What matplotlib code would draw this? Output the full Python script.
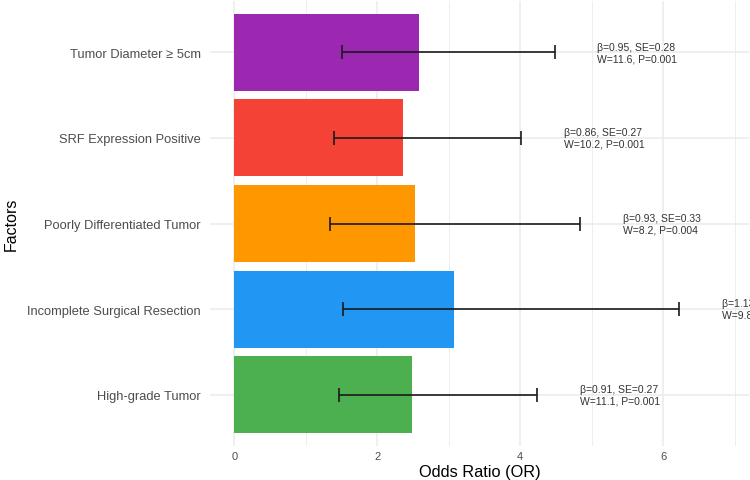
import matplotlib.pyplot as plt
import numpy as np

plt.rcParams['font.family'] = ['Liberation Sans', 'DejaVu Sans']

# data, bottom to top
factors = ['High-grade Tumor', 'Incomplete Surgical Resection', 'Poorly Differentiated Tumor',
           'SRF Expression Positive', 'Tumor Diameter \u2265 5cm']
odds = [2.48, 3.08, 2.53, 2.36, 2.59]
ci_low = [1.46, 1.52, 1.34, 1.39, 1.50]
ci_high = [4.23, 6.22, 4.84, 4.01, 4.48]
betas = ['0.91', '1.13', '0.93', '0.86', '0.95']
ses = ['0.27', '0.36', '0.33', '0.27', '0.28']
walds = ['11.1', '9.8', '8.2', '10.2', '11.6']
pvals = ['0.001', '0.002', '0.004', '0.001', '0.001']
colors = ['#4CAF50', '#2196F3', '#FF9800', '#F44336', '#9C27B0']

fig = plt.figure(figsize=(7.5, 4.81), dpi=100)
ax = fig.add_axes([0.28, 0.0707, 0.7187, 0.925])

y = np.arange(len(factors))
odds = np.array(odds)
lo = odds - np.array(ci_low)
hi = np.array(ci_high) - odds

ax.barh(y, odds, height=0.9, color=colors, zorder=2)
ax.errorbar(odds, y, xerr=[lo, hi], fmt='none', ecolor='#1a1a1a',
            elinewidth=1.2, capsize=4.7, capthick=1.2, zorder=3)

for i in range(len(factors)):
    txt = '\u03b2=' + betas[i] + ', SE=' + ses[i] + '\nW=' + walds[i] + ', P=' + pvals[i]
    ax.text(ci_high[i] + 0.6, y[i], txt, fontsize=7.5, color='#333333',
            ha='left', va='center', linespacing=1.15, zorder=4)

ax.set_xlim(-0.34, 7.2)
ax.set_ylim(-0.6, 4.6)
ax.set_yticks(y)
ax.set_yticklabels(factors)
ax.set_xticks([0, 2, 4, 6])
ax.set_xticks([1, 3, 5, 7], minor=True)

ax.grid(which='major', color='#EBEBEB', linewidth=1.1, zorder=0)
ax.grid(which='minor', axis='x', color='#EBEBEB', linewidth=0.6, zorder=0)
ax.set_axisbelow(True)
for s in ax.spines.values():
    s.set_visible(False)
ax.tick_params(axis='both', which='both', length=0)
ax.tick_params(axis='y', labelsize=9.3, labelcolor='#4D4D4D', pad=6.5)
ax.tick_params(axis='x', labelsize=8, labelcolor='#4D4D4D', pad=3.6)

ax.set_xlabel('Odds Ratio (OR)', fontsize=11.8, labelpad=2)
ax.set_ylabel('Factors', fontsize=11.5, labelpad=6)

fig.savefig('out.png', dpi=100)
